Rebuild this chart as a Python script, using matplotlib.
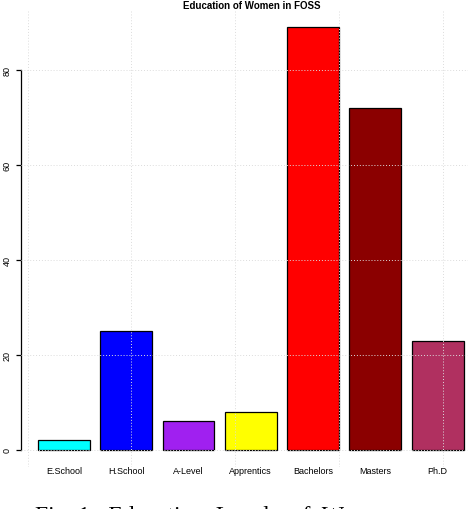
import matplotlib
matplotlib.use("Agg")
import matplotlib.pyplot as plt

# data
levels = ["E.School", "H.School", "A-Level", "Apprentics", "Bachelors", "Masters", "Ph.D"]
counts = [2, 25, 6, 8, 89, 72, 23]
colours = ["#00FFFF", "#0000FF", "#A020F0", "#FFFF00", "#FF0000", "#8B0000", "#B03060"]
yticks = [0, 20, 40, 60, 80]
xgrid = [0, 2, 4, 6, 8]

W, H = 468, 510
plt.rcParams['font.family'] = ['Liberation Sans', 'DejaVu Sans']

fig = plt.figure(figsize=(W / 100, H / 100), dpi=100)
# plot region in pixels (R style barplot, width 1, space 0.2)
left, right = 21, 468
bottom, top = 510 - 467.9, 510 - 11.3
ax = fig.add_axes([left / W, bottom / H, (right - left) / W, (top - bottom) / H])

centers = [0.7 + 1.2 * i for i in range(len(levels))]
ax.bar(centers, counts, width=1.0, color=colours, edgecolor="black", linewidth=0.9, zorder=2)

ax.set_xlim(-0.128, (right - 27.6) / 51.9)
ax.set_ylim(-3.56, 92.56)

# grid drawn on top like R's grid()
for g in yticks:
    ax.axhline(g, color="#DCDCDC", linestyle=(0, (1, 2)), linewidth=0.7, zorder=3)
for g in xgrid:
    ax.axvline(g, color="#DCDCDC", linestyle=(0, (1, 2)), linewidth=0.7, zorder=3)

for s in ["top", "right", "bottom"]:
    ax.spines[s].set_visible(False)
ax.spines["left"].set_bounds(0, 80)
ax.spines["left"].set_linewidth(0.9)

ax.set_yticks(yticks)
ax.set_yticklabels([str(t) for t in yticks], rotation=90, va="center", fontsize=6.5)
ax.tick_params(axis="y", length=3.5, width=0.9, pad=3)

ax.set_xticks(centers)
ax.set_xticklabels(levels, fontsize=6.5)
ax.tick_params(axis="x", length=0, pad=-1)

fig.text(252 / W, 1 - 6 / H, "Education of Women in FOSS", ha="center", va="center",
         fontsize=7, fontweight="bold")

# caption of the source paper, almost fully cut off at the bottom edge
fig.text(35 / W, -12.0 / H, "Fig. 1:  Education  Levels  of  Women", ha="left",
         va="baseline", fontsize=17, family="Liberation Serif")

fig.savefig("out.png", dpi=100)
